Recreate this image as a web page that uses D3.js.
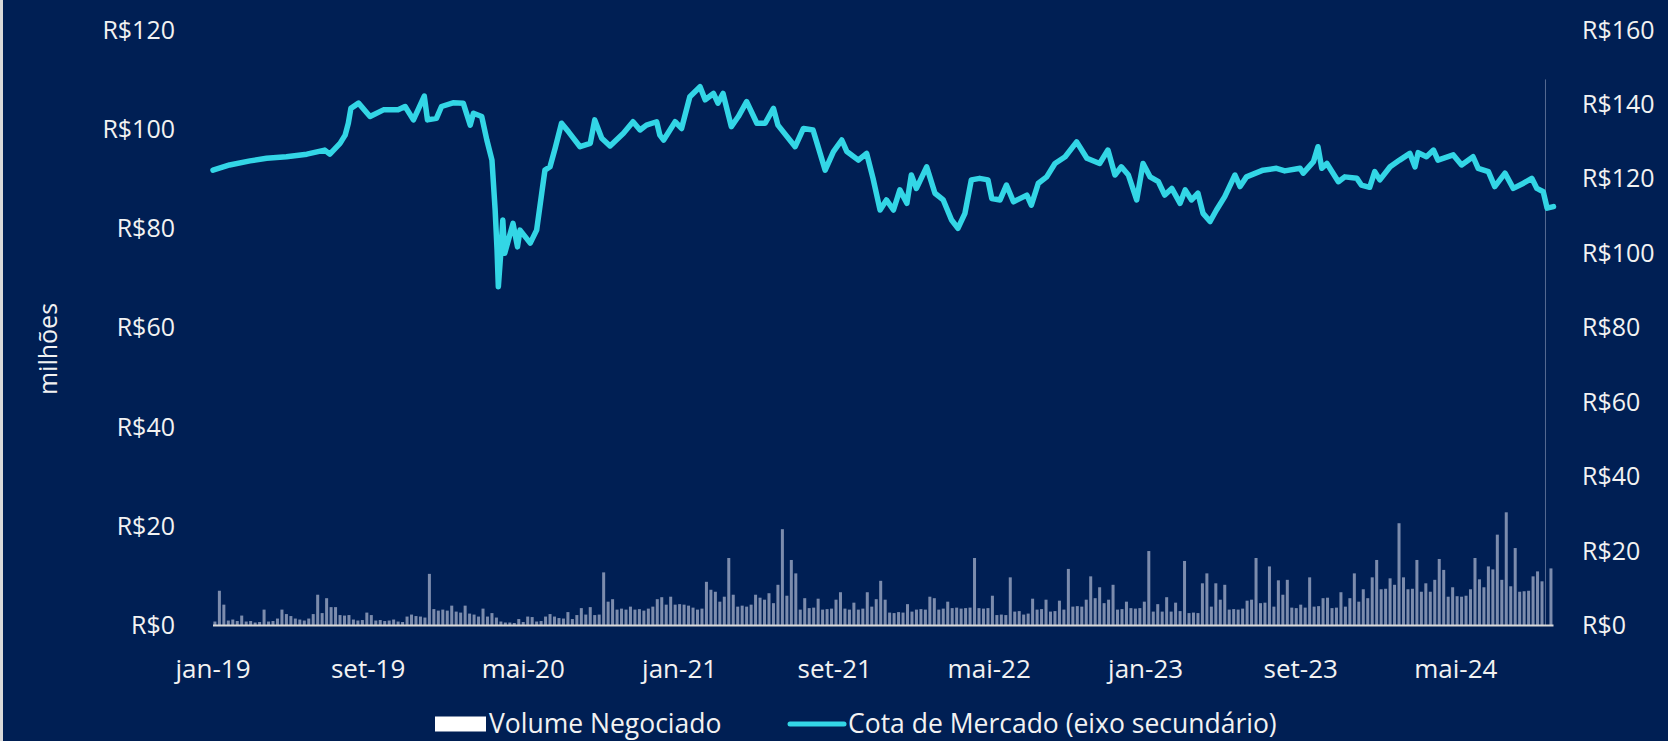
<!DOCTYPE html>
<html>
<head>
<meta charset="utf-8">
<script src="https://cdn.jsdelivr.net/npm/d3@7"></script>
<style>
  html, body { margin: 0; padding: 0; background: #ffffff; }
  svg { display: block; }
  text { font-family: "Open Sans", "Noto Sans", sans-serif; fill: #f2f2f2; }
</style>
</head>
<body>
<svg id="chart" width="1668" height="741"></svg>
<script>
// Cota de Mercado (eixo secundário), R$
const cotaDates = [
  "2019-01-01","2019-01-27","2019-02-28","2019-03-26","2019-04-26","2019-05-28","2019-06-25","2019-07-03",
  "2019-07-19","2019-07-27","2019-08-01","2019-08-05","2019-08-17","2019-09-04","2019-09-25","2019-10-18",
  "2019-10-29","2019-11-11","2019-11-28","2019-12-03","2019-12-17","2019-12-25","2020-01-12","2020-01-28",
  "2020-02-08","2020-02-13","2020-02-26","2020-03-05","2020-03-13","2020-03-18","2020-03-21","2020-03-23",
  "2020-03-27","2020-03-30","2020-04-02","2020-04-15","2020-04-22","2020-04-26","2020-05-12","2020-05-22",
  "2020-05-30","2020-06-04","2020-06-12","2020-06-20","2020-06-30","2020-07-11","2020-07-29","2020-08-14",
  "2020-08-21","2020-09-01","2020-09-14","2020-10-05","2020-10-20","2020-10-31","2020-11-10","2020-11-26",
  "2020-12-01","2020-12-07","2020-12-25","2021-01-04","2021-01-17","2021-02-02","2021-02-10","2021-02-23",
  "2021-03-02","2021-03-10","2021-03-23","2021-04-03","2021-04-16","2021-05-02","2021-05-15","2021-05-28",
  "2021-06-04","2021-07-01","2021-07-14","2021-07-29","2021-08-17","2021-08-30","2021-09-12","2021-09-20",
  "2021-10-08","2021-10-21","2021-10-31","2021-11-11","2021-11-21","2021-12-02","2021-12-12","2021-12-23",
  "2021-12-30","2022-01-07","2022-01-23","2022-02-05","2022-02-18","2022-03-03","2022-03-13","2022-03-24",
  "2022-04-03","2022-04-16","2022-04-29","2022-05-05","2022-05-18","2022-05-28","2022-06-08","2022-06-29",
  "2022-07-06","2022-07-17","2022-07-30","2022-08-12","2022-08-28","2022-09-15","2022-10-01","2022-10-21",
  "2022-11-03","2022-11-14","2022-11-24","2022-12-05","2022-12-18","2022-12-28","2023-01-08","2023-01-21",
  "2023-01-31","2023-02-11","2023-02-24","2023-03-04","2023-03-14","2023-03-24","2023-04-01","2023-04-12",
  "2023-04-22","2023-05-05","2023-05-21","2023-05-29","2023-06-08","2023-07-04","2023-07-25","2023-08-07",
  "2023-08-31","2023-09-05","2023-09-21","2023-09-28","2023-10-04","2023-10-12","2023-10-30","2023-11-09",
  "2023-11-28","2023-12-05","2023-12-18","2023-12-26","2024-01-03","2024-01-19","2024-02-03","2024-02-19",
  "2024-02-27","2024-03-03","2024-03-16","2024-03-27","2024-04-03","2024-04-27","2024-05-10","2024-05-28",
  "2024-06-05","2024-06-21","2024-07-01","2024-07-17","2024-07-30","2024-08-15","2024-08-28","2024-09-05",
  "2024-09-15","2024-09-21","2024-10-01"
];
const cotaValues = [
  122.3,123.7,124.8,125.5,125.9,126.6,127.7,126.6,
  129.5,131.7,134.9,138.9,140.3,136.7,138.5,138.5,
  139.4,135.8,142.2,135.8,136.2,139.4,140.4,140.3,
  134.4,137.6,136.7,130.4,125.0,111.6,100.9,91.0,
  100.4,108.9,100.0,108.0,101.7,106.2,102.7,106.2,
  116.1,122.3,123.2,128.2,134.9,132.6,128.6,129.5,
  135.8,130.9,128.8,132.2,135.3,133.1,134.4,135.3,
  131.7,130.4,135.3,133.5,142.0,144.7,141.2,142.9,
  140.3,142.9,134.0,136.7,140.7,134.9,134.9,138.9,
  134.4,128.6,133.5,133.1,122.3,127.3,130.4,127.3,
  125.0,126.8,120.1,111.6,114.3,111.6,117.0,113.4,
  121.0,117.4,123.2,116.1,114.3,108.9,106.7,110.7,
  119.7,120.1,119.7,114.7,114.3,118.3,113.8,115.6,
  112.9,118.8,120.5,124.1,125.9,129.9,125.5,124.1,
  127.7,121.0,123.2,121.0,114.3,124.1,120.5,119.2,
  115.6,117.4,113.4,117.0,114.3,116.1,110.7,108.5,
  111.6,115.2,121.0,117.9,120.5,122.3,122.8,122.1,
  122.8,121.5,124.6,128.6,122.8,124.1,119.2,120.5,
  120.1,118.3,117.7,121.9,119.7,123.2,125.0,126.8,
  123.2,127.0,125.9,127.7,125.0,126.4,123.7,125.9,
  122.8,121.9,117.9,121.5,117.4,118.8,120.1,117.4,
  116.5,112.1,112.5
];

// Volume Negociado (R$ milhões), one value per week starting at volumeStart
const volumeStart = "2019-01-01";
const volumeWeekly = [
  0.8,7.0,4.2,1.0,1.2,0.9,2.0,0.8,0.9,0.6,
  0.7,3.2,0.8,0.9,1.4,3.2,2.3,1.9,1.4,1.2,
  1.0,1.4,2.3,6.2,2.5,5.5,3.7,3.7,2.1,2.0,
  2.1,1.2,1.0,1.1,2.6,2.1,1.0,1.1,0.9,1.0,
  1.2,0.8,0.7,1.8,2.2,1.9,1.8,1.6,10.4,3.3,
  3.0,3.2,3.0,4.0,2.8,2.6,4.0,2.4,2.2,1.8,
  3.4,1.8,2.5,1.6,0.8,0.6,0.6,0.5,1.3,0.7,
  1.8,1.7,0.8,0.9,1.8,2.3,1.8,1.5,1.4,2.7,
  1.3,2.1,3.5,2.2,3.7,2.1,2.2,10.7,4.8,5.3,
  3.2,3.4,3.2,3.8,3.2,3.3,3.0,3.4,3.8,5.3,
  5.7,4.2,5.8,4.2,4.3,4.2,4.0,3.6,3.2,3.4,
  8.8,7.2,6.8,4.8,5.8,13.6,6.2,3.8,4.0,3.8,
  4.2,6.2,5.6,5.2,6.5,4.5,8.2,19.4,6.0,13.2,
  10.5,3.2,5.5,3.5,3.6,5.4,3.2,3.3,3.4,5.2,
  6.7,3.4,3.2,4.6,3.2,3.4,6.7,3.8,5.3,9.0,
  5.2,2.6,2.5,2.7,2.6,4.3,2.8,3.2,3.3,3.2,
  5.8,5.5,3.2,3.4,4.8,3.5,3.6,3.4,3.5,3.6,
  13.6,3.5,3.4,3.5,6.0,2.1,2.2,2.1,9.7,2.8,
  2.9,2.2,2.4,5.4,3.2,3.3,5.2,2.8,2.9,5.0,
  3.2,11.4,3.8,3.9,3.8,5.2,9.9,5.5,7.7,4.5,
  5.2,8.2,3.2,3.3,4.8,3.5,3.4,3.5,4.8,15.0,
  2.8,4.3,2.8,5.7,2.8,4.6,2.9,13.0,2.5,2.6,
  2.5,8.5,10.5,3.8,8.5,5.2,8.2,3.2,3.3,3.2,
  3.4,5.0,5.2,13.6,4.5,4.6,11.9,3.8,9.1,6.2,
  9.2,3.6,3.5,4.2,3.6,9.7,3.8,3.9,5.5,5.6,
  3.5,3.6,6.7,3.8,5.5,10.5,4.8,7.3,5.5,9.7,
  13.2,7.3,7.4,9.5,8.2,20.6,9.7,7.3,7.4,13.2,
  6.8,8.5,6.8,9.2,13.4,11.2,5.8,7.7,5.9,5.8,
  6.0,7.3,13.6,9.3,7.7,11.9,11.3,18.3,9.2,22.8,
  7.9,15.6,6.8,6.9,7.0,9.9,10.9,8.9,110,11.5
];

const xTickDates = ["2019-01-01","2019-09-01","2020-05-01","2021-01-01","2021-09-01","2022-05-01","2023-01-01","2023-09-01","2024-05-01"];
const xTickLabels = ["jan-19","set-19","mai-20","jan-21","set-21","mai-22","jan-23","set-23","mai-24"];
const leftTicks = [0, 20, 40, 60, 80, 100, 120];
const rightTicks = [0, 20, 40, 60, 80, 100, 120, 140, 160];
const legendLabels = ["Volume Negociado", "Cota de Mercado (eixo secundário)"];

const W = 1668, H = 741;
const parse = d3.utcParse("%Y-%m-%d");
const svg = d3.select("#chart");

svg.append("rect").attr("width", W).attr("height", H).attr("fill", "#001f54");
svg.append("rect").attr("width", 3).attr("height", H).attr("fill", "#d9d9d9");

const x = d3.scaleUtc()
  .domain([parse("2019-01-01"), parse("2024-10-01")])
  .range([213, 1553.5]);
const yLeft = d3.scaleLinear().domain([0, 120]).range([625.5, 29.8]);
const yRight = d3.scaleLinear().domain([0, 160]).range([625.5, 29.8]);

// volume bars
const start = parse(volumeStart);
const vol = volumeWeekly.map((v, i) => ({ date: d3.utcDay.offset(start, i * 7 + 3), v }));
svg.append("g")
  .selectAll("rect")
  .data(vol)
  .join("rect")
  .attr("x", d => x(d.date) - 1.5)
  .attr("width", d => d.v > 50 ? 1 : 3)
  .attr("y", d => yLeft(d.v))
  .attr("height", d => yLeft(0) - yLeft(d.v))
  .attr("fill", "#bcc5dc")
  .attr("fill-opacity", d => d.v > 50 ? 0.45 : 0.66);

// baseline
svg.append("line")
  .attr("x1", x.range()[0]).attr("x2", x.range()[1])
  .attr("y1", yLeft(0)).attr("y2", yLeft(0))
  .attr("stroke", "#d9d9d9").attr("stroke-width", 2);

// cota line
const cota = cotaDates.map((d, i) => ({ date: parse(d), v: cotaValues[i] }));
svg.append("path")
  .datum(cota)
  .attr("fill", "none")
  .attr("stroke", "#33d6e6")
  .attr("stroke-width", 5.5)
  .attr("stroke-linejoin", "round")
  .attr("stroke-linecap", "round")
  .attr("d", d3.line().x(d => x(d.date)).y(d => yRight(d.v)));

const fmt = v => "R$" + v;

// left axis labels
svg.append("g").selectAll("text")
  .data(leftTicks)
  .join("text")
  .attr("x", 175)
  .attr("y", d => yLeft(d))
  .attr("dy", "0.35em")
  .attr("text-anchor", "end")
  .attr("font-size", 25)
  .text(fmt);

// right axis labels
svg.append("g").selectAll("text")
  .data(rightTicks)
  .join("text")
  .attr("x", 1582)
  .attr("y", d => yRight(d))
  .attr("dy", "0.35em")
  .attr("text-anchor", "start")
  .attr("font-size", 25)
  .text(fmt);

// x labels
svg.append("g").selectAll("text")
  .data(xTickDates)
  .join("text")
  .attr("x", d => x(parse(d)))
  .attr("y", 669)
  .attr("dy", "0.35em")
  .attr("text-anchor", "middle")
  .attr("font-size", 26)
  .text((d, i) => xTickLabels[i]);

// y title
svg.append("text")
  .attr("transform", "translate(48,349) rotate(-90)")
  .attr("dy", "0.35em")
  .attr("text-anchor", "middle")
  .attr("font-size", 25)
  .text("milhões");

// legend
const lg = svg.append("g");
const ly = 724;
lg.append("rect").attr("x", 435).attr("y", ly - 7.5).attr("width", 51).attr("height", 15).attr("fill", "#ffffff");
lg.append("text").attr("x", 489).attr("y", ly).attr("dy", "0.35em").attr("font-size", 26.5).text(legendLabels[0]);
lg.append("line").attr("x1", 790).attr("x2", 844).attr("y1", ly).attr("y2", ly)
  .attr("stroke", "#33d6e6").attr("stroke-width", 5).attr("stroke-linecap", "round");
lg.append("text").attr("x", 848).attr("y", ly).attr("dy", "0.35em").attr("font-size", 26.5).text(legendLabels[1]);
</script>
</body>
</html>
